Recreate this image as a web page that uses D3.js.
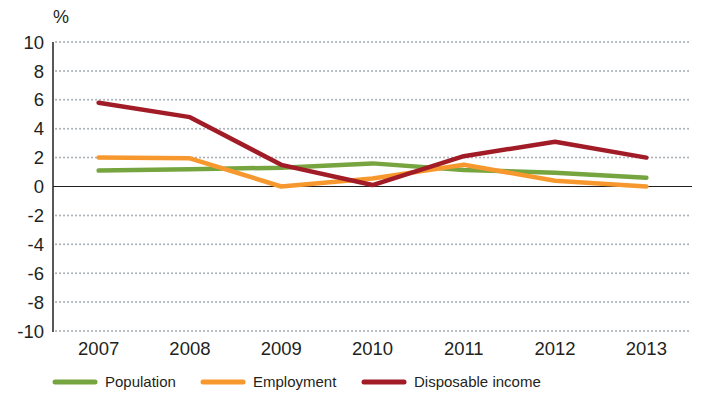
<!DOCTYPE html>
<html><head><meta charset="utf-8">
<script src="https://cdn.jsdelivr.net/npm/d3@7"></script>
<style>body{margin:0;background:#fff}svg{display:block}text{font-family:"Liberation Sans",Arial,sans-serif;fill:#231f20}</style>
</head><body>
<script>
const years = ["2007","2008","2009","2010","2011","2012","2013"];
const population = [1.1, 1.2, 1.3, 1.6, 1.15, 0.95, 0.6];
const employment = [2.0, 1.95, 0.0, 0.55, 1.5, 0.4, 0.0];
const disposableIncome = [5.8, 4.8, 1.5, 0.1, 2.1, 3.1, 2.0];
const yTicks = [-10,-8,-6,-4,-2,0,2,4,6,8,10];
const seriesNames = ["Population","Employment","Disposable income"];
const colors = ["#76a540","#f7982f","#a11c27"];

(function(){
const W=701,H=396;
const svg=d3.select("body").append("svg").attr("width",W).attr("height",H);
const mLeft=53,mRight=692,mTop=42,mBottom=331;
const x=d3.scaleBand().domain(years).range([mLeft,mRight]);
const y=d3.scaleLinear().domain([-10,10]).range([mBottom,mTop]);

// grid
svg.append("g").selectAll("line").data(yTicks.filter(d=>d!==0)).join("line")
 .attr("x1",mLeft+3).attr("x2",mRight).attr("y1",d=>y(d)).attr("y2",d=>y(d))
 .attr("stroke","#a8b0b6").attr("stroke-width",2).attr("stroke-dasharray","0.1,3.9").attr("stroke-linecap","round");

// y axis labels
svg.append("g").selectAll("text").data(yTicks).join("text")
 .attr("x",44).attr("y",d=>y(d)).attr("dy","0.36em").attr("text-anchor","end")
 .attr("font-size",18.5).text(d=>d);
svg.append("text").attr("x",53).attr("y",23).attr("font-size",18).text("%");

// axis lines
svg.append("line").attr("x1",mLeft).attr("x2",mLeft).attr("y1",mTop).attr("y2",mBottom+1).attr("stroke","#231f20").attr("stroke-width",1.5);
svg.append("line").attr("x1",mLeft).attr("x2",mRight).attr("y1",y(0)).attr("y2",y(0)).attr("stroke","#231f20").attr("stroke-width",1.2);

// x labels
svg.append("g").selectAll("text").data(years).join("text")
 .attr("x",d=>x(d)+x.bandwidth()/2).attr("y",355).attr("text-anchor","middle").attr("font-size",18.5).text(d=>d);

const data=[population,employment,disposableIncome];
const line=d3.line().x((d,i)=>x(years[i])+x.bandwidth()/2).y(d=>y(d));
data.forEach((s,k)=>{
  svg.append("path").datum(s).attr("d",line).attr("fill","none").attr("stroke",colors[k])
   .attr("stroke-width",4.5).attr("stroke-linecap","round").attr("stroke-linejoin","round");
});

// legend
const legX=[53,201,362];
seriesNames.forEach((n,k)=>{
  svg.append("line").attr("x1",legX[k]+2).attr("x2",legX[k]+42).attr("y1",382).attr("y2",382)
   .attr("stroke",colors[k]).attr("stroke-width",5).attr("stroke-linecap","round");
  svg.append("text").attr("x",legX[k]+52).attr("y",382).attr("dy","0.35em").attr("font-size",15).text(n);
});
})();
</script>
</body></html>
